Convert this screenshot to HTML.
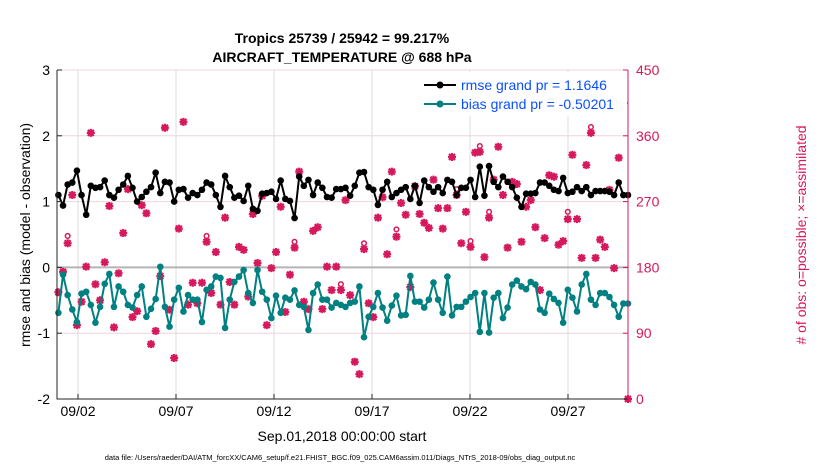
<!DOCTYPE html>
<html><head><meta charset="utf-8"><style>
body{margin:0;background:#fff;}
svg{display:block;font-family:"Liberation Sans",sans-serif;}
</style></head><body>
<svg id="chart" width="830" height="470" viewBox="0 0 830 470">
<rect width="830" height="470" fill="#fff"/>
<text x="342" y="43" text-anchor="middle" font-size="14" font-weight="bold">Tropics 25739 / 25942 = 99.217%</text>
<text x="342" y="62" text-anchor="middle" font-size="14" font-weight="bold">AIRCRAFT_TEMPERATURE @ 688 hPa</text>
<g id="grid"></g>
<g id="marks"></g>
<g id="axes"></g>
<text transform="translate(30,235) rotate(-90)" text-anchor="middle" font-size="14">rmse and bias (model - observation)</text>
<text transform="translate(806,235) rotate(-90)" text-anchor="middle" font-size="14" fill="#d6185c"># of obs: o=possible; ×=assimilated</text>
<text x="342" y="441" text-anchor="middle" font-size="14">Sep.01,2018 00:00:00 start</text>
<text x="340" y="460" text-anchor="middle" font-size="7.5">data file: /Users/raeder/DAI/ATM_forcXX/CAM6_setup/f.e21.FHIST_BGC.f09_025.CAM6assim.011/Diags_NTrS_2018-09/obs_diag_output.nc</text>
<g>
<rect x="420" y="72" width="207" height="44" fill="#fff"/>
<line x1="424" y1="85" x2="456" y2="85" stroke="#000" stroke-width="2"/>
<circle cx="440" cy="85" r="3.5" fill="#000"/>
<text x="461" y="90" font-size="14" fill="#0a50ff">rmse grand pr = 1.1646</text>
<line x1="424" y1="104" x2="456" y2="104" stroke="#008080" stroke-width="2"/>
<circle cx="440" cy="104" r="3.5" fill="#008080"/>
<text x="461" y="109" font-size="14" fill="#0a50ff">bias grand pr = -0.50201</text>
</g>
</svg>
<script>
const rmse=[1.10,0.94,1.26,1.29,1.47,1.10,0.80,1.24,1.21,1.22,1.32,1.10,1.06,1.18,1.26,1.39,1.21,1.00,1.07,1.15,1.22,1.44,1.13,1.30,1.29,1.00,1.18,1.19,1.06,1.13,
1.10,1.18,1.29,1.26,1.10,0.92,1.39,1.22,1.06,1.09,1.01,1.24,0.89,0.86,1.12,1.13,1.15,1.04,1.32,1.04,1.01,0.75,1.38,1.24,1.33,1.10,1.29,1.21,1.07,1.06,1.19,
1.19,1.21,1.09,1.24,1.44,1.45,1.22,1.18,0.95,1.18,1.30,1.07,1.13,1.18,1.22,1.04,1.24,0.98,1.32,1.22,1.15,1.22,1.13,1.33,1.30,1.10,1.21,1.21,1.33,1.07,1.53,
1.09,1.54,1.30,1.22,1.38,1.30,1.22,1.06,0.92,1.12,1.12,1.13,1.29,1.29,1.24,1.18,1.16,1.36,1.13,1.15,1.22,1.16,1.22,1.10,1.16,1.16,1.16,1.15,1.10,1.29,1.10,1.10];
const bias=[-0.69,-0.11,-0.42,-0.64,-0.83,-0.40,-0.37,-0.57,-0.84,-0.60,-0.25,-0.10,-0.60,-0.29,-0.37,-0.57,-0.61,-0.42,-0.29,-0.75,-0.63,-0.48,0.01,-0.60,-0.90,-0.49,-0.31,-0.67,-0.42,-0.49,
-0.49,-0.83,-0.34,-0.29,-0.14,-0.16,-0.92,-0.49,-0.22,-0.14,-0.04,-0.39,-0.54,-0.04,-0.37,-0.49,-0.77,-0.43,-0.69,-0.46,-0.49,-0.35,-0.57,-0.60,-0.95,-0.39,-0.26,-0.49,-0.49,-0.61,-0.54,
-0.57,-0.60,-0.54,-0.52,-0.29,-1.06,-0.75,-0.60,-0.39,-0.61,-0.81,-0.58,-0.43,-0.73,-0.72,-0.13,-0.52,-0.52,-0.61,-0.49,-0.23,-0.49,-0.69,-0.14,-0.73,-0.60,-0.60,-0.52,-0.45,-0.39,-0.98,
-0.39,-0.99,-0.46,-0.39,-0.77,-0.61,-0.26,-0.20,-0.29,-0.33,-0.22,-0.26,-0.64,-0.69,-0.40,-0.48,-0.54,-0.84,-0.34,-0.46,-0.67,-0.26,-0.10,-0.49,-0.57,-0.39,-0.39,-0.45,-0.57,-0.75,-0.55,-0.55];
const obsCount=[146,174,213,279,101,133,181,364,157,135,187,264,98,172,227,287,112,120,265,254,75,93,168,371,122,56,233,379,129,159,
131,159,215,145,201,129,248,160,129,208,204,140,253,186,278,101,179,201,263,119,170,207,311,133,123,230,235,123,181,149,
181,149,272,142,51,34,205,131,112,248,276,198,311,222,268,252,153,291,253,241,234,300,261,233,261,331,279,213,256,208,337,
338,194,248,300,345,279,207,297,294,215,263,272,235,149,220,306,304,211,216,246,334,246,193,320,364,193,218,208,286,179,330,405,0];
const possibleExtra=[0,0,5,0,0,0,0,0,0,0,0,0,0,0,0,0,0,0,0,0,0,0,0,0,0,0,0,0,0,0,
0,0,4,0,0,0,0,0,0,0,0,0,0,0,0,0,0,0,0,0,0,4,0,0,0,0,0,0,0,0,0,
4,0,0,0,0,4,0,0,0,0,0,0,5,0,0,0,0,0,0,0,0,0,0,0,0,4,0,0,4,0,4,
0,4,0,0,0,0,0,0,0,0,0,0,0,0,0,0,0,0,5,0,0,0,0,4,0,0,0,0,0,0,0,0,0];
const leftTicks=[3,2,1,0,-1,-2];
const rightTicks=[450,360,270,180,90,0];
const dateTickDays=[1,6,11,16,21,26];
const dateTickLabels=["09/02","09/07","09/12","09/17","09/22","09/27"];
const daySpan=29.06;

const L=57,R=628,T=70,B=399;
const x=d=>58.4+d*19.6;
const yL=v=>T+(3-v)*(B-T)/5;
const yR=v=>B-v*(B-T)/450;
const dayOf=i=>i*daySpan/(rmse.length-1);
const NS="http://www.w3.org/2000/svg";
function mk(tag,attrs,parent){const e=document.createElementNS(NS,tag);for(const k in attrs)e.setAttribute(k,attrs[k]);parent.appendChild(e);return e;}
const grid=document.getElementById('grid'),marks=document.getElementById('marks'),axes=document.getElementById('axes');

dateTickDays.forEach((d,i)=>{
  const g=mk('line',{x1:x(d),x2:x(d),y1:T,y2:B,stroke:'#dcdcdc','stroke-width':1},grid);
  
  
  const tk=mk('line',{x1:x(d),x2:x(d),y1:B,y2:B-5,stroke:'#262626'},axes);
  
  
  const t=mk('text',{x:x(d),y:B+17,'text-anchor':'middle','font-size':14},axes);
  t.textContent=dateTickLabels[i];
  
  
});
leftTicks.forEach(v=>{
  const g=mk('line',{x1:L,x2:R,y1:yL(v),y2:yL(v),stroke:v===0?'#b4b4b4':'#f0d4de','stroke-width':v===0?2:1},grid);
  
  
  const tk=mk('line',{x1:L,x2:L+5,y1:yL(v),y2:yL(v),stroke:'#262626'},axes);
  
  
  const t=mk('text',{x:L-7,y:yL(v)+5,'text-anchor':'end','font-size':14},axes);
  t.textContent=v;
  
  
});
rightTicks.forEach(v=>{
  const tk=mk('line',{x1:R,x2:R-5,y1:yR(v),y2:yR(v),stroke:'#d6185c'},axes);
  
  
  const t=mk('text',{x:R+8,y:yR(v)+5,'font-size':14,fill:'#d6185c'},axes);
  t.textContent=v;
  
  
});
const ax=mk('path',{d:`M${L},${T}V${B}H${R}`,fill:'none',stroke:'#262626','stroke-width':1},axes);


const ar=mk('line',{x1:R,x2:R,y1:T,y2:B,stroke:'#d6185c'},axes);



// obs counts
obsCount.forEach((c,i)=>{
  const cx=x(dayOf(i)),cy=yR(c);
  const g=mk('g',{stroke:'#d6185c','stroke-width':2.2,fill:'none'},marks);
  
  
  if(possibleExtra[i]>0) mk('circle',{cx:cx,cy:yR(c+possibleExtra[i]*2),r:2.3,'stroke-width':1.5},g);
  mk('path',{d:`M${cx-4},${cy}h8M${cx},${cy-4}v8M${cx-3},${cy-3}l6,6M${cx+3},${cy-3}l-6,6`},g);
  mk('circle',{cx:cx,cy:cy,r:2,fill:'#d6185c',stroke:'none'},g);
});
function series(vals,color,name){
  const pts=vals.map((v,i)=>[x(dayOf(i)),yL(v)]);
  const p=mk('polyline',{points:pts.map(q=>q.join(',')).join(' '),fill:'none',stroke:color,'stroke-width':2},marks);
  
  
  pts.forEach(q=>{
    const c=mk('circle',{cx:q[0],cy:q[1],r:3.3,fill:color},marks);
    
    
  });
}
series(bias,'#008080','bias');
series(rmse,'#000000','rmse');
</script>
</body></html>
